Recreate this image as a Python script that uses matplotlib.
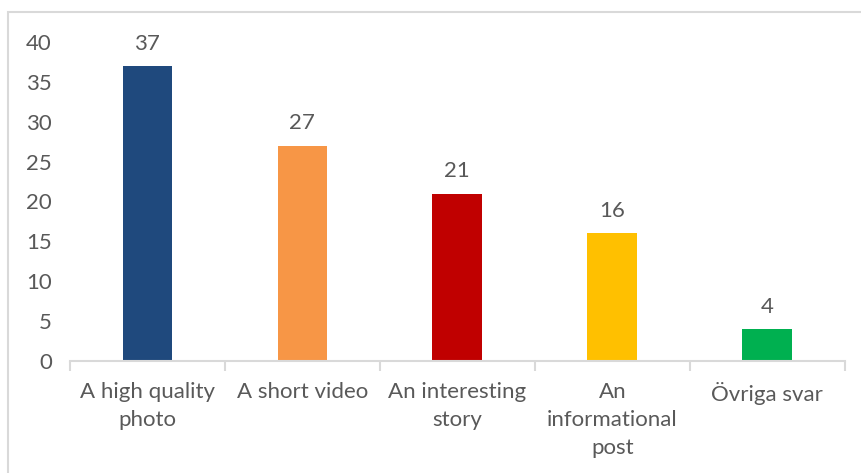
import matplotlib.pyplot as plt
from matplotlib.patches import Rectangle

categories = ["A high quality\nphoto", "A short video", "An interesting\nstory",
              "An\ninformational\npost", "Övriga svar"]
values = [37, 27, 21, 16, 4]
colors = ["#1F497D", "#F79646", "#C00000", "#FFC000", "#00B050"]
yticks = [0, 5, 10, 15, 20, 25, 30, 35, 40]

plt.rcParams["font.family"] = ["Lato", "DejaVu Sans"]
text_color = "#595959"
axis_color = "#D9D9D9"
fs = 16

fig = plt.figure(figsize=(8.62, 4.73), dpi=100)
ax = fig.add_axes([0.081, 0.237, 0.899, 0.674])

x = list(range(len(categories)))
ax.bar(x, values, width=0.32, color=colors)
for xi, v in zip(x, values):
    ax.annotate(str(v), xy=(xi, v), xytext=(0, 9), textcoords="offset points",
                ha="center", va="bottom", fontsize=fs, color=text_color)

ax.set_xlim(-0.5, len(categories) - 0.5)
ax.set_ylim(0, 40)
ax.set_yticks(yticks)
ax.tick_params(axis="y", length=0, labelsize=fs, labelcolor=text_color, pad=13)

# category labels centred, tick marks at the category boundaries
ax.set_xticks(x)
ax.set_xticklabels(categories, fontsize=fs, color=text_color, linespacing=1.5)
ax.tick_params(axis="x", which="major", length=0, pad=15)
ax.set_xticks([i - 0.5 for i in range(len(categories) + 1)], minor=True)
ax.tick_params(axis="x", which="minor", length=7, width=1.5, color=axis_color)

for side in ["top", "right", "left"]:
    ax.spines[side].set_visible(False)
ax.spines["bottom"].set_color(axis_color)
ax.spines["bottom"].set_linewidth(1.5)

# chart area border
fig.patches.append(Rectangle((8 / 862, -0.1), 1.0, 1 - 12 / 473 + 0.1,
                             transform=fig.transFigure, fill=False,
                             edgecolor=axis_color, linewidth=1.5))

fig.savefig("out.png", dpi=100)
